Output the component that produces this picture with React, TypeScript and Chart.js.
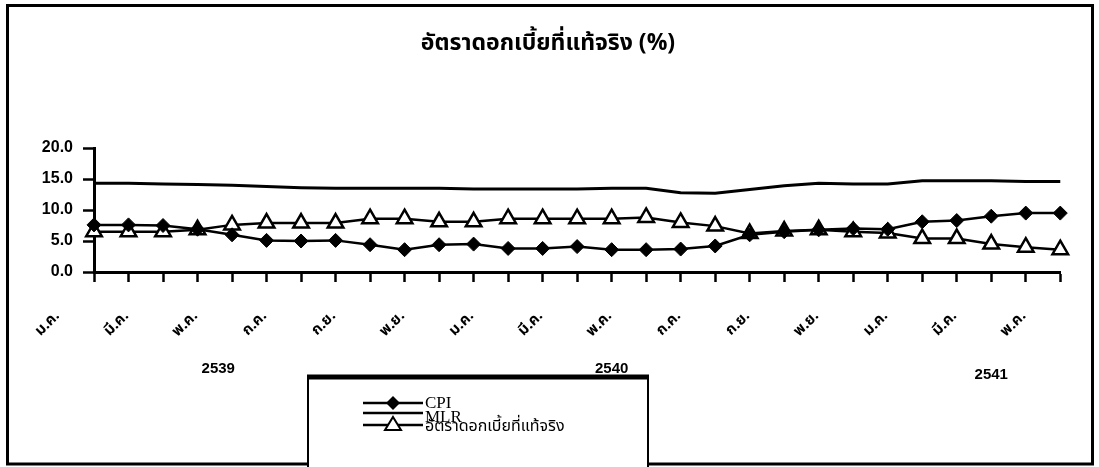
import React, { useEffect, useRef } from "react";
import { Chart, registerables } from "chart.js";

Chart.register(...registerables);

const TITLE = "อัตราดอกเบี้ยที่แท้จริง (%)";

const months = [
  "ม.ค.", "ก.พ.", "มี.ค.", "เม.ย.", "พ.ค.", "มิ.ย.", "ก.ค.", "ส.ค.", "ก.ย.", "ต.ค.", "พ.ย.", "ธ.ค.",
  "ม.ค.", "ก.พ.", "มี.ค.", "เม.ย.", "พ.ค.", "มิ.ย.", "ก.ค.", "ส.ค.", "ก.ย.", "ต.ค.", "พ.ย.", "ธ.ค.",
  "ม.ค.", "ก.พ.", "มี.ค.", "เม.ย.", "พ.ค.",
];

const cpi = [7.6, 7.6, 7.5, 6.9, 6.0, 5.1, 5.0, 5.1, 4.4, 3.6, 4.4, 4.5, 3.8, 3.8, 4.1, 3.6, 3.6, 3.7, 4.2, 6.0, 6.5, 6.8, 7.0, 6.9, 8.1, 8.3, 9.0, 9.5, 9.5];
const mlr = [14.3, 14.3, 14.2, 14.1, 14.0, 13.8, 13.6, 13.5, 13.5, 13.5, 13.5, 13.4, 13.4, 13.4, 13.4, 13.5, 13.5, 12.8, 12.7, 13.3, 13.9, 14.3, 14.2, 14.2, 14.7, 14.7, 14.7, 14.6, 14.6];
const realRate = [6.5, 6.5, 6.5, 6.8, 7.6, 7.9, 7.9, 7.9, 8.6, 8.6, 8.1, 8.1, 8.6, 8.6, 8.6, 8.6, 8.8, 8.0, 7.4, 6.2, 6.6, 6.8, 6.5, 6.3, 5.4, 5.4, 4.5, 4.0, 3.6];

const years = ["2539", "2540", "2541"];
const yearAt = [3.6, 15, 26];

const seriesNames = ["CPI", "MLR", "อัตราดอกเบี้ยที่แท้จริง"];

const THAI = "'Noto Sans Thai', 'Noto Sans', 'DejaVu Sans', sans-serif";

const decorPlugin = {
  id: "decor",
  afterDraw(chart: any) {
    const ctx = chart.ctx;
    const xs = chart.scales.x;
    ctx.save();
    // outer frame
    ctx.strokeStyle = "#000";
    ctx.lineWidth = 3;
    ctx.strokeRect(7.5, 5.5, 1085, 458.5);
    // title
    ctx.fillStyle = "#000";
    ctx.font = `bold 23px ${THAI}`;
    ctx.textAlign = "center";
    ctx.textBaseline = "middle";
    ctx.fillText(TITLE, 548, 45);
    // years
    ctx.font = "bold 15px 'Liberation Sans', Arial, sans-serif";
    years.forEach((y, i) => {
      ctx.fillText(y, xs.getPixelForValue(yearAt[i]), 369 + (i === 2 ? 6 : 0));
    });
    // legend box
    const bx = 308, bw = 340, by = 377;
    ctx.fillStyle = "#fff";
    ctx.fillRect(bx, by, bw, 90);
    ctx.strokeStyle = "#000";
    ctx.lineWidth = 2;
    ctx.beginPath();
    ctx.moveTo(bx, by);
    ctx.lineTo(bx, 467);
    ctx.moveTo(bx + bw, by);
    ctx.lineTo(bx + bw, 467);
    ctx.stroke();
    ctx.lineWidth = 5;
    ctx.beginPath();
    ctx.moveTo(bx - 1, by);
    ctx.lineTo(bx + bw + 1, by);
    ctx.stroke();
    const rows = [403, 413, 425];
    const textRows = [404, 418, 428];
    chart.data.datasets.forEach((ds: any, i: number) => {
      const y = rows[i];
      ctx.strokeStyle = "#000";
      ctx.lineWidth = 2.5;
      ctx.beginPath();
      ctx.moveTo(363, y);
      ctx.lineTo(423, y);
      ctx.stroke();
      if (ds.pointStyle === "rectRot") {
        ctx.fillStyle = "#000";
        ctx.beginPath();
        ctx.moveTo(393, y - 7);
        ctx.lineTo(400, y);
        ctx.lineTo(393, y + 7);
        ctx.lineTo(386, y);
        ctx.closePath();
        ctx.fill();
      } else if (ds.pointStyle === "triangle") {
        ctx.fillStyle = "#fff";
        ctx.lineWidth = 2;
        ctx.beginPath();
        ctx.moveTo(393, y - 8);
        ctx.lineTo(401, y + 5);
        ctx.lineTo(385, y + 5);
        ctx.closePath();
        ctx.fill();
        ctx.stroke();
      }
      ctx.fillStyle = "#000";
      ctx.textAlign = "left";
      ctx.textBaseline = "middle";
      ctx.font = i === 2 ? `16px ${THAI}` : "17px 'Liberation Serif', 'Times New Roman', serif";
      ctx.fillText(ds.label, 425, textRows[i]);
    });
    ctx.restore();
  },
};

export default function App() {
  const ref = useRef<HTMLCanvasElement>(null);
  useEffect(() => {
    document.body.style.margin = "0";
    const chart = new Chart(ref.current as HTMLCanvasElement, {
      type: "line",
      data: {
        labels: months,
        datasets: [
          {
            label: seriesNames[0],
            data: cpi,
            borderColor: "#000",
            backgroundColor: "#000",
            borderWidth: 2.5,
            pointStyle: "rectRot",
            pointRadius: 7,
            pointBackgroundColor: "#000",
            pointBorderColor: "#000",
            pointBorderWidth: 1,
            tension: 0,
          },
          {
            label: seriesNames[1],
            data: mlr,
            borderColor: "#000",
            borderWidth: 3,
            pointRadius: 0,
            tension: 0,
          },
          {
            label: seriesNames[2],
            data: realRate,
            borderColor: "#000",
            borderWidth: 2.5,
            pointStyle: "triangle",
            pointRadius: 9,
            pointBackgroundColor: "#fff",
            pointBorderColor: "#000",
            pointBorderWidth: 2.5,
            tension: 0,
          },
        ],
      },
      options: {
        responsive: false,
        animation: false,
        devicePixelRatio: 1,
        layout: { padding: { left: 0, right: 27, top: 148, bottom: 0 } },
        plugins: { legend: { display: false }, title: { display: false }, tooltip: { enabled: false } },
        scales: {
          x: {
            type: "category",
            offset: false,
            afterFit: (s: any) => { s.height = 195; },
            grid: { drawOnChartArea: false, drawTicks: true, tickLength: 10, tickWidth: 2.5, color: "#000" },
            border: { display: true, color: "#000", width: 3 },
            ticks: {
              autoSkip: false,
              maxRotation: 45,
              minRotation: 45,
              labelOffset: -36,
              padding: 26,
              color: "#000",
              font: { family: THAI, size: 15, weight: "bold" },
              callback: (_v: any, i: number) => (i % 2 === 0 ? months[i] : ""),
            },
          },
          y: {
            min: 0,
            max: 20,
            afterFit: (s: any) => { s.width = 94; },
            grid: { drawOnChartArea: false, drawTicks: true, tickLength: 11, tickWidth: 2.5, color: "#000" },
            border: { display: true, color: "#000", width: 3 },
            ticks: {
              stepSize: 5,
              padding: 10,
              color: "#000",
              font: { family: "'Liberation Sans', Arial, sans-serif", size: 16, weight: "bold" },
              callback: (v: any) => Number(v).toFixed(1),
            },
          },
        },
      },
      plugins: [decorPlugin],
    } as any);
    return () => chart.destroy();
  }, []);
  return (
    <div style={{ position: "absolute", left: 0, top: 0, width: 1099, height: 467, background: "#fff" }}>
      <canvas ref={ref} width={1099} height={467} />
    </div>
  );
}
